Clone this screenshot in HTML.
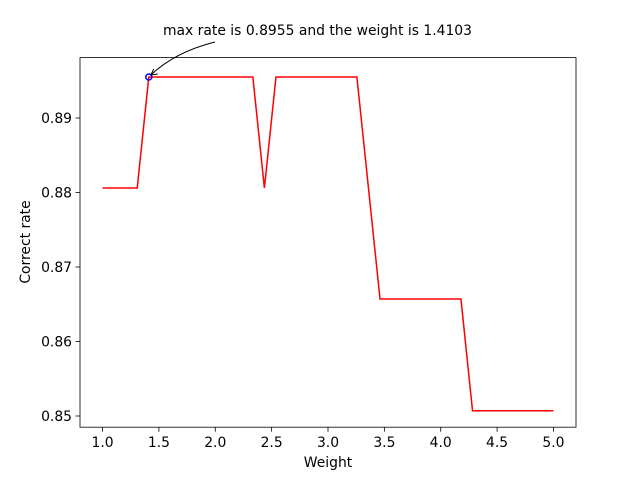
<!DOCTYPE html>
<html><head><meta charset="utf-8"><style>
body{margin:0;background:#fff}
svg text{font-family:"DejaVu Sans","Liberation Sans",sans-serif;font-size:13.9px;fill:#000}
</style></head><body>
<svg id="chart" width="640" height="480" xmlns="http://www.w3.org/2000/svg">
<rect width="640" height="480" fill="#fff"/>
<g id="plot"></g>
<rect x="80" y="57.6" width="496" height="369.6" fill="none" stroke="#000" stroke-width="0.8"/>
<text x="328" y="467" text-anchor="middle">Weight</text>
<text x="30" y="242" text-anchor="middle" transform="rotate(-90 30 242)">Correct rate</text>
<text x="163" y="35">max rate is 0.8955 and the weight is 1.4103</text>
</svg>
<script>
const weights=[];for(let i=0;i<40;i++)weights.push(1+i*4/39);
const rates=[0.8806,0.8806,0.8806,0.8806,0.8955,0.8955,0.8955,0.8955,0.8955,0.8955,0.8955,0.8955,0.8955,0.8955,0.8806,0.8955,0.8955,0.8955,0.8955,0.8955,0.8955,0.8955,0.8955,0.8806,0.8657,0.8657,0.8657,0.8657,0.8657,0.8657,0.8657,0.8657,0.8507,0.8507,0.8507,0.8507,0.8507,0.8507,0.8507,0.8507];
const xTicks=[1.0,1.5,2.0,2.5,3.0,3.5,4.0,4.5,5.0];
const yTicks=[0.85,0.86,0.87,0.88,0.89];
const maxIndex=4;
const X0=0.8,X1=5.2;
const sx=v=>80+(v-X0)/(X1-X0)*496;
const sy=v=>416-(v-0.85)*7450;
const NS="http://www.w3.org/2000/svg";
const g=document.getElementById('plot');
function mk(t,a){const e=document.createElementNS(NS,t);for(const k in a)e.setAttribute(k,a[k]);g.appendChild(e);return e;}
xTicks.forEach(t=>{
 const l=mk('line',{x1:sx(t),x2:sx(t),y1:427.2,y2:431.7,stroke:'#000','stroke-width':0.8});
 
 
 const tx=mk('text',{x:sx(t),y:447,'text-anchor':'middle'});tx.textContent=t.toFixed(1);
 
 
});
yTicks.forEach(t=>{
 const l=mk('line',{x1:75.5,x2:80,y1:sy(t),y2:sy(t),stroke:'#000','stroke-width':0.8});
 
 
 const tx=mk('text',{x:72,y:sy(t)+5,'text-anchor':'end'});tx.textContent=t.toFixed(2);
 
 
});
const pts=weights.map((w,i)=>sx(w)+','+sy(rates[i])).join(' ');
const line=mk('polyline',{points:pts,fill:'none',stroke:'#ff0000','stroke-width':1.5});


const mx=sx(weights[maxIndex]),my=sy(rates[maxIndex]);
const c=mk('circle',{cx:mx,cy:my,r:3,fill:'none',stroke:'#0000ff','stroke-width':1.5});


const ar=mk('path',{d:`M215,42 Q175,52 ${mx+2},${my-2}`,fill:'none',stroke:'#000','stroke-width':1});


const ah=mk('path',{d:`M${mx+2},${my-2} l7,-1 M${mx+2},${my-2} l3,-6`,fill:'none',stroke:'#000','stroke-width':1});


</script>
</body></html>
